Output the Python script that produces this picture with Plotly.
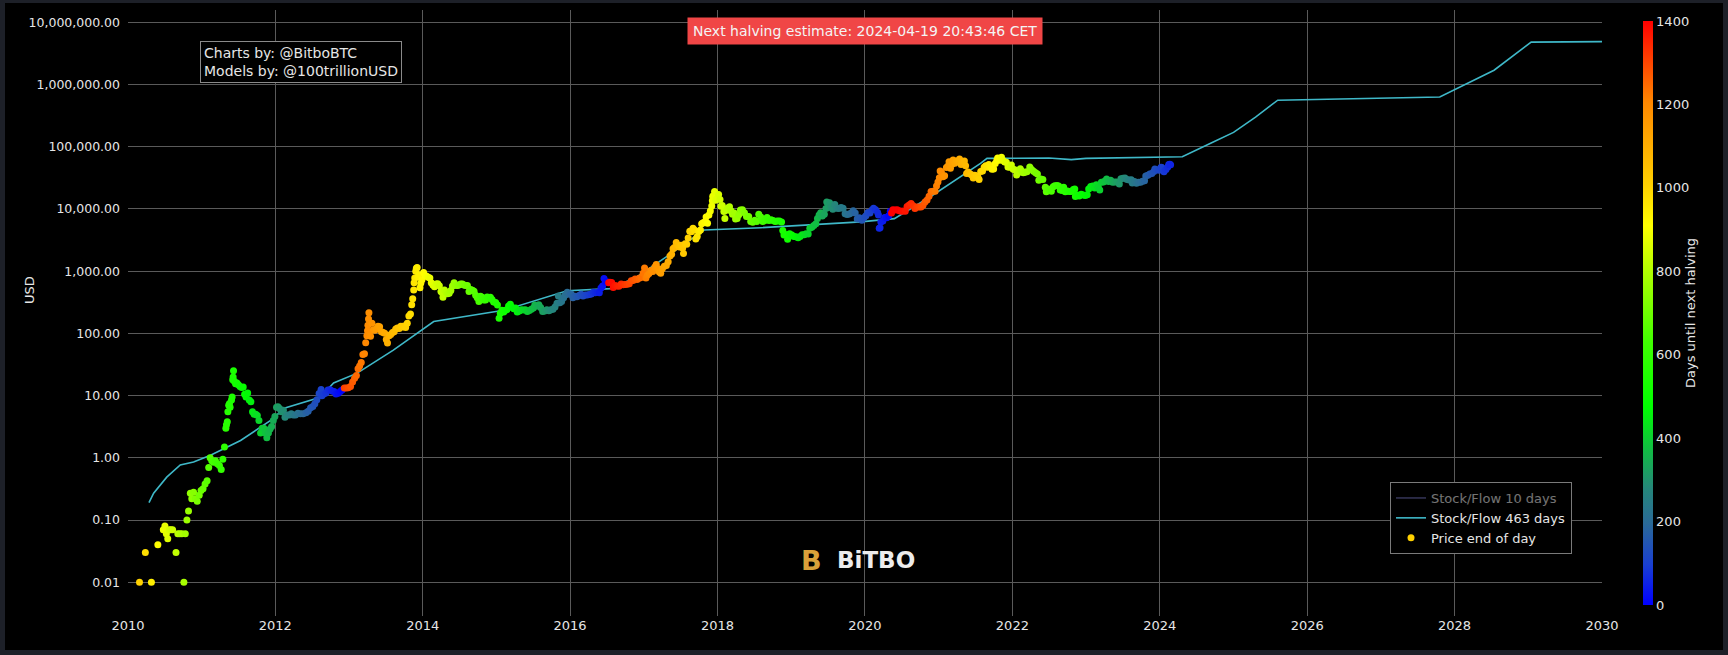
import plotly.graph_objects as go
import pandas as pd

# ---------------- data ----------------
price_dates = [
"2010-02-27","2010-03-28","2010-04-27","2010-05-29","2010-06-25","2010-07-03","2010-07-10","2010-07-17","2010-07-24",
"2010-08-01","2010-08-10","2010-08-27","2010-09-05","2010-09-15","2010-09-25","2010-10-05","2010-10-12","2010-10-20",
"2010-10-28","2010-11-06","2010-11-13","2010-11-22","2010-12-01","2010-12-10","2010-12-20","2010-12-29",
"2011-01-08","2011-01-18","2011-01-28","2011-02-05","2011-02-12","2011-02-20","2011-03-01","2011-03-10","2011-03-20",
"2011-03-30","2011-04-08","2011-04-16","2011-04-24","2011-05-01","2011-05-04","2011-05-08","2011-05-11","2011-05-15",
"2011-05-19","2011-05-22","2011-05-29","2011-06-01","2011-06-04","2011-06-06","2011-06-08","2011-06-12","2011-06-18",
"2011-06-25","2011-07-02","2011-07-10","2011-07-18","2011-07-26",
"2011-08-02","2011-08-09","2011-08-17","2011-08-25","2011-09-02","2011-09-10","2011-09-18","2011-09-26","2011-10-04",
"2011-10-12","2011-10-20","2011-10-28","2011-11-05","2011-11-13","2011-11-20","2011-11-28","2011-12-06","2011-12-14",
"2011-12-22","2011-12-30",
"2012-01-07","2012-01-14","2012-01-22","2012-01-31","2012-02-10","2012-02-18","2012-02-28","2012-03-10","2012-03-20",
"2012-03-30","2012-04-10","2012-04-22","2012-05-05","2012-05-18","2012-06-01","2012-06-12","2012-06-24","2012-07-05",
"2012-07-15","2012-07-25","2012-08-05","2012-08-15","2012-08-19","2012-08-28","2012-09-08","2012-09-18","2012-09-28",
"2012-10-08","2012-10-18","2012-10-28","2012-11-08","2012-11-18","2012-11-27","2012-12-08","2012-12-18","2012-12-28",
"2013-01-08","2013-01-18","2013-01-28","2013-02-06","2013-02-14","2013-02-22","2013-03-02","2013-03-10","2013-03-18",
"2013-03-24","2013-03-30","2013-04-02","2013-04-04","2013-04-07","2013-04-09","2013-04-12","2013-04-17","2013-04-24",
"2013-05-01","2013-05-08",
"2013-05-16","2013-05-24","2013-06-01","2013-06-10","2013-06-18","2013-06-26","2013-07-04","2013-07-10","2013-07-18",
"2013-07-26","2013-08-04","2013-08-12","2013-08-20","2013-08-28","2013-09-06","2013-09-14","2013-09-22","2013-09-30",
"2013-10-08","2013-10-16","2013-10-24","2013-11-01","2013-11-07","2013-11-12","2013-11-17","2013-11-19","2013-11-22",
"2013-11-27","2013-11-30","2013-12-04","2013-12-08","2013-12-12","2013-12-18","2013-12-22","2013-12-28",
"2014-01-05","2014-01-12","2014-01-20","2014-01-28","2014-02-05","2014-02-12","2014-02-20","2014-02-28","2014-03-08",
"2014-03-16","2014-03-24","2014-04-01","2014-04-08","2014-04-11","2014-04-18","2014-04-26","2014-05-04","2014-05-12",
"2014-05-20","2014-05-28","2014-06-05","2014-06-13","2014-06-21","2014-06-29","2014-07-08","2014-07-16","2014-07-24",
"2014-08-01","2014-08-10","2014-08-18","2014-08-26","2014-09-04","2014-09-12","2014-09-20","2014-09-28","2014-10-06",
"2014-10-14","2014-10-22","2014-10-30","2014-11-08","2014-11-16","2014-11-24","2014-12-02","2014-12-10","2014-12-18",
"2014-12-28",
"2015-01-06","2015-01-14","2015-01-20","2015-01-28","2015-02-06","2015-02-14","2015-02-22","2015-03-02","2015-03-11",
"2015-03-20","2015-03-28","2015-04-06","2015-04-14","2015-04-24","2015-05-04","2015-05-14","2015-05-24","2015-06-03",
"2015-06-13","2015-06-23","2015-07-03","2015-07-10","2015-07-20","2015-07-30","2015-08-08","2015-08-18","2015-08-28",
"2015-09-08","2015-09-18","2015-09-28","2015-10-08","2015-10-18","2015-10-28","2015-11-04","2015-11-11","2015-11-20",
"2015-11-30","2015-12-08","2015-12-18","2015-12-28",
"2016-01-06","2016-01-15","2016-01-25","2016-02-04","2016-02-14","2016-02-24","2016-03-05","2016-03-15","2016-03-25",
"2016-04-05","2016-04-15","2016-04-25","2016-05-05","2016-05-15","2016-05-25","2016-06-02","2016-06-10","2016-06-17",
"2016-06-24","2016-07-01","2016-07-10","2016-07-16","2016-07-25","2016-08-02","2016-08-10","2016-08-20","2016-08-30",
"2016-09-10","2016-09-20","2016-09-30","2016-10-10","2016-10-20","2016-10-30","2016-11-08","2016-11-18","2016-11-28",
"2016-12-08","2016-12-18","2016-12-28",
"2017-01-04","2017-01-11","2017-01-18","2017-01-26","2017-02-04","2017-02-14","2017-02-24","2017-03-03","2017-03-10",
"2017-03-18","2017-03-25","2017-04-02","2017-04-12","2017-04-22","2017-05-01","2017-05-10","2017-05-18","2017-05-25",
"2017-06-01","2017-06-10","2017-06-18","2017-06-26","2017-07-04","2017-07-12","2017-07-16","2017-07-24","2017-08-01",
"2017-08-08","2017-08-16","2017-08-24","2017-09-01","2017-09-08","2017-09-15","2017-09-22","2017-09-30","2017-10-08",
"2017-10-14","2017-10-21","2017-10-29","2017-11-05","2017-11-12","2017-11-19","2017-11-26","2017-12-03","2017-12-06",
"2017-12-08","2017-12-10","2017-12-13","2017-12-17","2017-12-22","2017-12-28",
"2018-01-06","2018-01-13","2018-01-17","2018-01-24","2018-02-01","2018-02-06","2018-02-14","2018-02-21","2018-03-01",
"2018-03-08","2018-03-16","2018-03-24","2018-03-31","2018-04-08","2018-04-16","2018-04-24","2018-05-04","2018-05-14",
"2018-05-24","2018-06-04","2018-06-14","2018-06-24","2018-07-04","2018-07-14","2018-07-24","2018-08-03","2018-08-13",
"2018-08-23","2018-09-03","2018-09-13","2018-09-23","2018-10-03","2018-10-13","2018-10-23","2018-11-03","2018-11-14",
"2018-11-20","2018-11-26","2018-12-04","2018-12-14","2018-12-24",
"2019-01-04","2019-01-14","2019-01-24","2019-02-04","2019-02-14","2019-02-24","2019-03-06","2019-03-16","2019-03-26",
"2019-04-03","2019-04-13","2019-04-23","2019-05-03","2019-05-11","2019-05-19","2019-05-27","2019-06-04","2019-06-14",
"2019-06-22","2019-06-26","2019-07-02","2019-07-10","2019-07-18","2019-07-26","2019-08-05","2019-08-15","2019-08-25",
"2019-09-05","2019-09-15","2019-09-25","2019-10-05","2019-10-15","2019-10-25","2019-11-04","2019-11-14","2019-11-24",
"2019-12-04","2019-12-17","2019-12-27",
"2020-01-06","2020-01-16","2020-01-26","2020-02-05","2020-02-13","2020-02-23","2020-03-04","2020-03-08","2020-03-12",
"2020-03-16","2020-03-20",
"2020-03-30","2020-04-08","2020-04-18","2020-04-28","2020-05-06","2020-05-12","2020-05-19","2020-05-30","2020-06-09",
"2020-06-19","2020-06-29","2020-07-09","2020-07-19","2020-07-28","2020-08-07","2020-08-17","2020-08-27","2020-09-05",
"2020-09-15","2020-09-25","2020-10-05","2020-10-15","2020-10-25","2020-11-04","2020-11-14","2020-11-24","2020-12-04",
"2020-12-14","2020-12-21","2020-12-28",
"2021-01-04","2021-01-08","2021-01-14","2021-01-22","2021-01-30","2021-02-08","2021-02-16","2021-02-21","2021-02-28",
"2021-03-08","2021-03-13","2021-03-22","2021-03-31","2021-04-08","2021-04-14","2021-04-22","2021-04-30","2021-05-08",
"2021-05-14","2021-05-19","2021-05-26","2021-06-04","2021-06-12","2021-06-21","2021-06-28","2021-07-06","2021-07-14",
"2021-07-20","2021-07-28","2021-08-06","2021-08-14","2021-08-22","2021-08-30","2021-09-06","2021-09-14","2021-09-22",
"2021-09-30","2021-10-08","2021-10-16","2021-10-20","2021-10-28","2021-11-08","2021-11-16","2021-11-24","2021-12-02",
"2021-12-10","2021-12-18","2021-12-27",
"2022-01-05","2022-01-13","2022-01-22","2022-01-31","2022-02-09","2022-02-17","2022-02-24","2022-03-04","2022-03-14",
"2022-03-28","2022-04-06","2022-04-16","2022-04-26","2022-05-05","2022-05-12","2022-05-22","2022-06-01","2022-06-13",
"2022-06-18","2022-06-26","2022-07-05","2022-07-13","2022-07-22","2022-07-30","2022-08-10","2022-08-18","2022-08-26",
"2022-09-05","2022-09-12","2022-09-20","2022-09-30","2022-10-10","2022-10-20","2022-10-30","2022-11-06","2022-11-09",
"2022-11-18","2022-11-28","2022-12-08","2022-12-18","2022-12-28",
"2023-01-07","2023-01-14","2023-01-24","2023-02-03","2023-02-13","2023-02-21","2023-03-03","2023-03-10","2023-03-18",
"2023-03-28","2023-04-05","2023-04-13","2023-04-23","2023-05-03","2023-05-13","2023-05-23","2023-06-03","2023-06-15",
"2023-06-23","2023-07-03","2023-07-13","2023-07-23","2023-08-03","2023-08-13","2023-08-18","2023-08-29","2023-09-08",
"2023-09-18","2023-09-28","2023-10-08","2023-10-18","2023-10-24","2023-11-03","2023-11-13","2023-11-23","2023-12-03",
"2023-12-08","2023-12-18","2023-12-28",
"2024-01-08","2024-01-11","2024-01-22","2024-02-01","2024-02-10","2024-02-15","2024-02-20","2024-02-24",
]
price_usd = [
0.01,0.03,0.01,0.04,0.07,0.08,0.06,0.05,0.07,
0.07,0.07,0.03,0.06,0.06,0.06,0.01,0.06,0.10,
0.14,0.27,0.22,0.28,0.22,0.20,0.25,0.30,
0.32,0.38,0.43,0.70,1.00,0.90,0.85,0.90,0.80,
0.75,0.65,0.95,1.50,3.00,3.40,3.80,5.50,7.00,
7.50,6.50,8.50,9.50,18.0,20.0,25.0,17.0,15.5,
16.0,15.0,14.0,13.5,13.8,
10.5,9.5,11.0,8.5,8.0,5.5,5.0,5.0,4.8,
4.0,2.5,3.0,3.0,2.5,2.1,2.5,2.9,3.2,
4.0,4.6,
6.5,6.6,6.2,5.5,5.8,4.5,4.9,4.9,5.1,
4.9,4.9,5.2,5.1,5.1,5.3,5.6,6.4,6.7,
7.4,8.6,10.8,12.5,10.0,10.6,11.0,12.3,12.4,
11.9,11.7,10.6,10.9,11.7,12.3,13.3,13.3,13.4,
14.0,16.5,19.0,21.0,27.0,30.0,34.0,46.0,47.0,
71.0,92.0,110,135,170,215,95,90,145,
115,112,
118,130,128,106,103,101,80,70,92,
96,103,106,118,122,120,130,127,132,
125,145,190,205,290,360,500,650,780,
1000,1120,1150,800,880,540,640,730,
950,850,830,800,780,650,600,560,620,
630,585,470,450,380,500,460,435,440,
490,580,650,595,590,600,625,620,600,
590,590,470,510,495,475,410,375,325,
395,380,345,345,385,375,380,350,320,
315,
285,175,210,235,220,235,240,275,295,
260,250,255,220,230,240,237,240,225,
233,245,255,285,275,288,260,225,230,
240,232,240,244,265,305,400,310,325,
375,415,460,425,
430,375,395,390,405,425,400,415,415,
422,430,460,450,455,450,535,580,760,
665,675,650,665,655,545,590,580,575,
620,605,610,615,630,700,710,750,735,
770,790,930,
1130,780,870,915,1030,990,1170,1280,1100,
970,930,1090,1200,1240,1420,1760,1870,2300,
2400,2900,2600,2450,2600,2350,1930,2750,2720,
3420,4400,4300,4900,4600,3300,3600,4350,4600,
5800,6000,6150,7400,5900,8000,9300,11200,13500,
16000,15000,16500,19100,13800,14500,
17100,14200,11100,11400,9100,7000,9500,10400,10900,
9400,8200,8600,6900,7000,8100,9600,9700,8700,
7600,7600,6300,6100,6600,6300,8200,7400,6300,
6500,7300,6500,6700,6500,6300,6400,6400,6200,
4500,3800,3900,3250,4000,
3800,3600,3570,3450,3600,3850,3860,4000,3950,
4900,5100,5400,5800,7000,8000,8700,7700,8200,
10200,12900,10600,12600,10700,9900,11800,10300,10200,
10600,10300,8400,8150,8300,8600,9400,8650,6900,
7200,6600,7200,
7750,8800,8600,9600,10300,9700,8800,8000,4900,
5000,6200,
6400,7300,7250,7750,9200,8600,9750,9650,9750,
9400,9190,9250,9200,10950,11600,12300,11300,10200,
10800,10750,10800,11500,13000,14000,16000,19100,19200,
19300,23500,27100,
31900,40800,39200,33000,34300,46400,49200,57500,45200,
52400,61200,54500,58900,58000,63500,51700,57800,58800,
49700,37000,39300,36900,35500,31600,34700,34200,32800,
29800,40000,40900,47000,49300,47000,51800,47100,43600,
43800,53900,60900,65900,60600,67500,60100,57000,56500,
47100,46700,50700,
43400,42600,35000,38500,44400,40500,38300,39100,39700,
47100,43200,40400,38100,36500,29000,30300,29800,22400,
19000,21000,20200,19300,22700,23600,23900,23300,20200,
19800,22400,18900,19400,19100,19100,20600,21000,15900,
16700,16200,17200,16700,16500,
16900,20900,22900,23400,21800,24400,22300,20200,26900,
27100,28200,30400,27600,29000,26800,27200,27200,25100,
30700,31100,31400,29800,29200,29400,26100,27700,25900,
26800,27000,27900,28400,33900,34700,36500,37300,39900,
44000,42600,42100,
46900,46300,39500,43100,47100,51900,52300,51600,
]

sf463_dates = [
"2010-04-15","2010-05-08","2010-07-12","2010-09-17","2010-11-22","2011-02-14","2011-07-13","2011-10-01",
"2011-12-24","2012-02-10","2012-08-11","2012-10-16","2013-02-10","2013-08-08","2014-02-24","2015-02-06",
"2015-12-17","2016-07-19","2016-11-25","2017-04-27","2017-10-27","2018-08-04","2019-12-10","2020-05-26",
"2020-11-24","2021-07-27","2021-08-28","2022-07-01","2022-10-20","2023-01-01","2024-04-22","2024-09-12",
"2025-01-01","2025-04-20","2025-08-08","2027-10-20","2028-07-15","2029-01-15","2030-01-01",
]
sf463_usd = [
0.19,0.27,0.49,0.77,0.86,1.1,1.9,2.8,
4.3,6.2,9.4,16,23,54,155,235,
485,525,800,1750,4600,5000,6200,7000,
16000,54000,65000,66000,62000,65000,69000,115000,
170000,300000,560000,630000,1700000,4800000,4900000,
]

halving_dates = ["2012-11-28", "2016-07-09", "2020-05-11", "2024-04-19"]

# ---------------- derived ----------------
pdates = pd.to_datetime(price_dates)
hdates = pd.to_datetime(halving_dates)
days_to_halving = []
for d in pdates:
    nxt = [h for h in hdates if h > d]
    days_to_halving.append((nxt[0] - d).days if nxt else 0)

colorscale = [
    [0.00, "#0000ff"],
    [0.07, "#1a40d0"],
    [0.14, "#2a6a98"],
    [0.20, "#25877a"],
    [0.27, "#10c040"],
    [0.34, "#00ff00"],
    [0.45, "#40ff00"],
    [0.57, "#b0ff00"],
    [0.65, "#ffff00"],
    [0.72, "#ffd000"],
    [0.86, "#ff8800"],
    [1.00, "#ff0000"],
]

# ---------------- layout geometry ----------------
W, H = 1728, 655
ML, MR, MT, MB = 128, 126, 10, 39
PW, PH = W - ML - MR, H - MT - MB


def px(x):
    return (x - ML) / PW


def py(y):
    return (H - MB - y) / PH


TXT = "#e6e6e6"
FONT = "DejaVu Sans"

fig = go.Figure()

fig.add_trace(go.Scatter(
    x=sf463_dates, y=sf463_usd, mode="lines", name="Stock/Flow 10 days",
    line=dict(color="#6b6bb0", width=1.5), visible="legendonly",
))
fig.add_trace(go.Scatter(
    x=sf463_dates, y=sf463_usd, mode="lines", name="Stock/Flow 463 days",
    line=dict(color="#3fb8c8", width=1.6),
))
fig.add_trace(go.Scatter(
    x=price_dates, y=price_usd, mode="markers", name="Price end of day",
    marker=dict(
        size=7, color=days_to_halving, colorscale=colorscale, cmin=0, cmax=1400,
        line=dict(width=0),
        colorbar=dict(
            title=dict(text="Days until next halving", side="right", font=dict(size=13, color=TXT, family=FONT)),
            thickness=10, x=px(1643), xanchor="left", xpad=0,
            y=0.5, yanchor="middle", len=584, lenmode="pixels", ypad=0,
            outlinewidth=0, tickvals=[0, 200, 400, 600, 800, 1000, 1200, 1400],
            tickfont=dict(size=13, color=TXT, family=FONT), ticklen=0,
        ),
    ),
))

fig.update_layout(
    width=W, height=H,
    margin=dict(l=ML, r=MR, t=MT, b=MB),
    paper_bgcolor="#1d2028",
    plot_bgcolor="#000000",
    font=dict(family=FONT, size=13, color=TXT),
    showlegend=True,
    legend=dict(
        x=px(1572), y=py(554), xanchor="right", yanchor="bottom",
        bgcolor="#000000", bordercolor="#7a7a7a", borderwidth=1,
        font=dict(size=13, color=TXT, family=FONT),
    ),
    xaxis=dict(
        type="date", range=["2010-01-01", "2030-01-01"],
        dtick="M24", tick0="2010-01-01", tickformat="%Y",
        showgrid=True, gridcolor="#5a5a5a", gridwidth=1,
        zeroline=False, showline=False, ticks="",
        tickfont=dict(size=13, color=TXT, family=FONT),
    ),
    yaxis=dict(
        type="log", range=[-2.542, 7.198], dtick=1, tickformat=",.2f",
        showgrid=True, gridcolor="#5a5a5a", gridwidth=1,
        zeroline=False, showline=False, ticks="",
        ticklabelstandoff=7,
        tickfont=dict(size=12.5, color=TXT, family=FONT),
    ),
    shapes=[dict(
        type="rect", xref="paper", yref="paper", layer="below",
        x0=px(5), x1=px(1723), y0=py(650), y1=py(3),
        fillcolor="#000000", line=dict(width=0),
    )],
    annotations=[
        dict(
            text="USD", xref="paper", yref="paper", x=px(29), y=py(290),
            xanchor="center", yanchor="middle", textangle=-90, showarrow=False,
            font=dict(size=13, color=TXT, family=FONT),
        ),
        dict(
            text="Next halving estimate: 2024-04-19 20:43:46 CET",
            xref="paper", yref="paper", x=0.5, y=py(31), xanchor="center", yanchor="middle",
            showarrow=False, bgcolor="#f04646", borderpad=5,
            font=dict(size=14, color="#f4f4f4", family=FONT),
        ),
        dict(
            text="Charts by: @BitboBTC<br>Models by: @100trillionUSD",
            xref="paper", yref="paper", x=px(200), y=py(41), xanchor="left", yanchor="top",
            align="left", showarrow=False, bgcolor="#000000",
            bordercolor="#8a8a8a", borderwidth=1, borderpad=3,
            font=dict(size=14, color=TXT, family=FONT),
        ),
        dict(
            text="<b>B</b>", xref="paper", yref="paper", x=px(811), y=py(560),
            xanchor="center", yanchor="middle", showarrow=False,
            font=dict(size=27, color="#d9a03a", family=FONT),
        ),
        dict(
            text="<b>BiTBO</b>", xref="paper", yref="paper", x=px(876), y=py(560),
            xanchor="center", yanchor="middle", showarrow=False,
            font=dict(size=23, color="#ececec", family=FONT),
        ),
    ],
)

fig.write_html(
    "out.html",
    config={"displayModeBar": False},
    post_script="document.body.style.margin='0';document.body.style.overflow='hidden';",
)
